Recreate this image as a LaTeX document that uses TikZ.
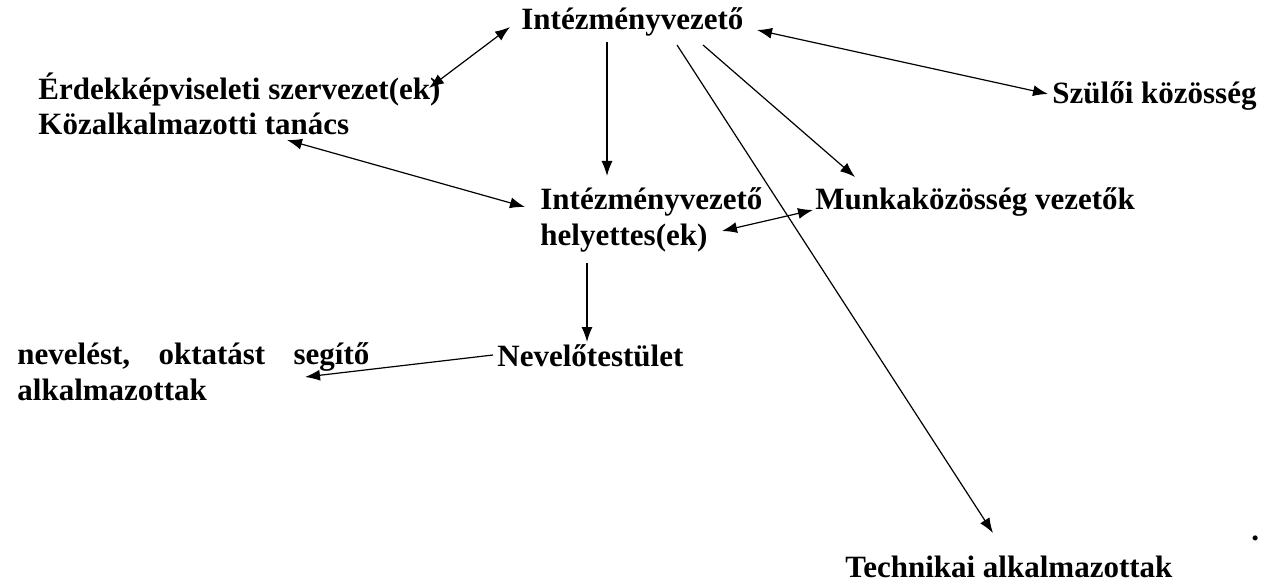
\documentclass[tikz,border=0pt]{standalone}
\usepackage{fontspec}
\setmainfont{Liberation Serif}
\usetikzlibrary{arrows.meta}
\begin{document}
\begin{tikzpicture}[x=0.5pt,y=-0.5pt,
  lbl/.style={anchor=base west, inner sep=0pt, font=\fontsize{15.5}{18}\selectfont\bfseries},
  con/.style={line width=0.6pt},
  sgl/.style={con,-{Latex[length=7.5pt,width=5.5pt]}},
  dbl/.style={con,{Latex[length=7.5pt,width=5.5pt]}-{Latex[length=7.5pt,width=5.5pt]}}]
\path[use as bounding box, fill=white] (0,0) rectangle (1277,582);
\node[lbl] (iv) at (521,30) {Intézményvezető};
\node[lbl] (erd) at (38,100) {Érdekképviseleti szervezet(ek)};
\node[lbl] (kozt) at (38,135) {Közalkalmazotti tanács};
\node[lbl] (szul) at (1052,104) {Szülői közösség};
\node[lbl, align=left] (ivh) at (540,246) {Intézményvezető\\helyettes(ek)};
\node[lbl] (munka) at (815,210) {Munkaközösség vezetők};
\node[lbl, align=left] (nev) at (17,400) {\makebox[176pt][l]{nevelést,\hfill oktatást\hfill segítő}\\alkalmazottak};
\node[lbl] (nevt) at (497,366) {Nevelőtestület};
\node[lbl] (tech) at (845,577) {Technikai alkalmazottak};
\node[lbl] (pont) at (1251,540) {.};
% connectors
\draw[dbl] ([shift={(-11,-3)}]iv.base west) -- ([shift={(391,-12)}]erd.base west);
\draw[sgl] ([shift={(86,12)}]iv.base west) -- ([shift={(67,-70)}]ivh.base west);
\draw[sgl] ([shift={(182,15)}]iv.base west) -- ([shift={(40,-33)}]munka.base west);
\draw[sgl] ([shift={(156,15)}]iv.base west) -- ([shift={(148,-44)}]tech.base west);
\draw[dbl] ([shift={(236,0)}]iv.base west) -- ([shift={(-4,-10)}]szul.base west);
\draw[dbl] ([shift={(249,5)}]kozt.base west) -- ([shift={(-15,-39)}]ivh.base west);
\draw[dbl] ([shift={(182,-15)}]ivh.base west) -- ([shift={(-2,0)}]munka.base west);
\draw[sgl] ([shift={(47,17)}]ivh.base west) -- ([shift={(90,-24)}]nevt.base west);
\draw[sgl] ([shift={(-4,-11)}]nevt.base west) -- ([shift={(288,-23)}]nev.base west);
\end{tikzpicture}
\end{document}
